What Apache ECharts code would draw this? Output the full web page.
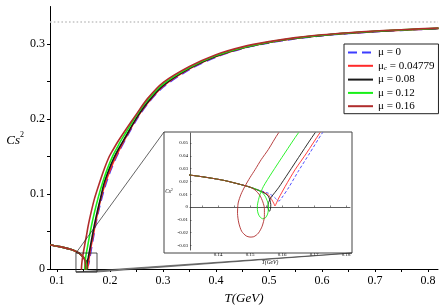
<!DOCTYPE html>
<html><head><meta charset="utf-8">
<script src="https://cdn.jsdelivr.net/npm/echarts@6/dist/echarts.min.js"></script>
<style>html,body{margin:0;padding:0;background:#fff}#c{width:443px;height:305px}</style>
</head><body><div id="c"></div>
<script>
// ---------- data ----------
const xLabelVals = [0.1,0.2,0.3,0.4,0.5,0.6,0.7,0.8];
const xTickVals  = [0.1,0.15,0.2,0.25,0.3,0.35,0.4,0.45,0.5,0.55,0.6,0.65,0.7,0.75,0.8];
const yLabelVals = [0,0.1,0.2,0.3];
const yTickVals  = [0,0.05,0.1,0.15,0.2,0.25,0.3];
const insetXLabelVals = [0.14,0.15,0.16,0.17,0.18];
const insetXTickVals  = [0.135,0.14,0.145,0.15,0.155,0.16,0.165,0.17,0.175,0.18];
const insetYLabelVals = [-0.03,-0.02,-0.01,0,0.01,0.02,0.03,0.04,0.05];
const cs2Limit = 1/3;
const zoomBoxT = [0.1358, 0.1755];
const zoomBoxC = [-0.004, 0.0213];

const seriesNames = ['μ = 0','μc = 0.04779','μ = 0.08','μ = 0.12','μ = 0.16'];

// common hadronic branch
const hadronT = [0.087,0.095,0.105,0.115,0.125,0.131,0.137,0.142,0.147,0.150];
const hadronC = [0.0322,0.0311,0.0298,0.0282,0.0264,0.0250,0.0229,0.0207,0.0176,0.0155];

const mu0T = [0.1530,0.1557,0.1573,0.1582,0.1589,0.1594,0.1599,0.1620,0.1651,0.1687,0.1726,0.1780,0.1850,0.1925,0.2010,0.2100,0.2180,0.2300,0.2500,0.2700,0.3000,0.3500,0.4000,0.4500,0.5000,0.5500,0.6000,0.6500,0.7000,0.7500,0.8200];
const mu0C = [0.0130,0.0108,0.0083,0.0062,0.0047,0.0052,0.0070,0.0148,0.0279,0.0422,0.0578,0.0760,0.0960,0.1140,0.1310,0.1460,0.1580,0.1740,0.1990,0.2195,0.2425,0.2660,0.2825,0.2940,0.3015,0.3070,0.3110,0.3140,0.3163,0.3182,0.3205];

const muCT = [0.1530,0.1557,0.1568,0.1575,0.1578,0.1581,0.1590,0.1610,0.1641,0.1677,0.1718,0.1770,0.1835,0.1910,0.2000,0.2090,0.2180,0.2300,0.2500,0.2700,0.3000,0.3500,0.4000,0.4500,0.5000,0.5500,0.6000,0.6500,0.7000,0.7500,0.8200];
const muCC = [0.0128,0.0096,0.0057,0.0025,0.0008,0.0022,0.0070,0.0161,0.0292,0.0422,0.0578,0.0760,0.0955,0.1140,0.1315,0.1465,0.1595,0.1755,0.2005,0.2205,0.2435,0.2668,0.2832,0.2945,0.3020,0.3074,0.3113,0.3143,0.3166,0.3184,0.3207];

const mu08T = [0.1530,0.1548,0.1557,0.1562,0.1565,0.1564,0.1561,0.1558,0.1556,0.1558,0.1566,0.1589,0.1620,0.1661,0.1703,0.1760,0.1820,0.1887,0.1980,0.2070,0.2160,0.2300,0.2500,0.2700,0.3000,0.3500,0.4000,0.4500,0.5000,0.5500,0.6000,0.6500,0.7000,0.7500,0.8200];
const mu08C = [0.0125,0.0105,0.0085,0.0055,0.0018,-0.0015,-0.0033,-0.0026,0.0000,0.0035,0.0075,0.0150,0.0266,0.0422,0.0578,0.0765,0.0940,0.1140,0.1325,0.1475,0.1600,0.1770,0.2015,0.2215,0.2445,0.2675,0.2837,0.2948,0.3022,0.3076,0.3115,0.3145,0.3168,0.3186,0.3208];

const mu12T = [0.1520,0.1536,0.1547,0.1555,0.1558,0.1555,0.1548,0.1540,0.1532,0.1526,0.1523,0.1523,0.1526,0.1531,0.1542,0.1568,0.1609,0.1651,0.1700,0.1775,0.1855,0.1950,0.2050,0.2120,0.2200,0.2300,0.2500,0.2700,0.3000,0.3500,0.4000,0.4500,0.5000,0.5500,0.6000,0.6500,0.7000,0.7500,0.8200];
const mu12C = [0.0138,0.0118,0.0085,0.0040,-0.0005,-0.0055,-0.0085,-0.0092,-0.0080,-0.0055,-0.0020,0.0010,0.0050,0.0096,0.0161,0.0266,0.0422,0.0578,0.0735,0.0945,0.1140,0.1335,0.1505,0.1600,0.1705,0.1820,0.2050,0.2245,0.2465,0.2685,0.2845,0.2952,0.3025,0.3079,0.3118,0.3147,0.3170,0.3188,0.3210];

const mu16T = [0.1516,0.1531,0.1540,0.1545,0.1545,0.1538,0.1526,0.1512,0.1500,0.1488,0.1474,0.1465,0.1461,0.1463,0.1472,0.1484,0.1500,0.1516,0.1535,0.1557,0.1589,0.1640,0.1710,0.1798,0.1890,0.1980,0.2050,0.2150,0.2300,0.2500,0.2700,0.3000,0.3500,0.4000,0.4500,0.5000,0.5500,0.6000,0.6500,0.7000,0.7500,0.8200];
const mu16C = [0.0132,0.0090,0.0040,-0.0010,-0.0073,-0.0150,-0.0205,-0.0232,-0.0235,-0.0226,-0.0190,-0.0125,-0.0050,0.0031,0.0100,0.0161,0.0230,0.0292,0.0370,0.0448,0.0578,0.0745,0.0945,0.1140,0.1330,0.1490,0.1580,0.1700,0.1860,0.2065,0.2265,0.2485,0.2700,0.2858,0.2962,0.3032,0.3085,0.3123,0.3151,0.3174,0.3191,0.3213];

// ---------- build ----------
function zip(T, C){ const n=Math.min(T.length,C.length); const o=[]; for(let i=0;i<n;i++) o.push([T[i],C[i]]); return o; }
function curve(T, C){ return zip(hadronT, hadronC).concat(zip(T, C)); }

const FONT = "'Liberation Serif','Times New Roman',serif";
const defs = [
  {name:seriesNames[0], color:'#3d3dff', dash:true, data:curve(mu0T, mu0C)},
  {name:seriesNames[1], color:'#ff2a2a', dash:false, data:curve(muCT, muCC)},
  {name:seriesNames[2], color:'#1a1a1a', dash:false, data:curve(mu08T, mu08C)},
  {name:seriesNames[3], color:'#18f018', dash:false, data:curve(mu12T, mu12C)},
  {name:seriesNames[4], color:'#b02c2c', dash:false, data:curve(mu16T, mu16C)}
];

const series = [];
defs.forEach((d, i) => {
  series.push({
    type:'line', name:d.name, xAxisIndex:0, yAxisIndex:0, data:d.data,
    symbol:'none', smooth:0.25, clip:true, z:3+i,
    lineStyle:{color:d.color, width:1.6, type:d.dash?[9,5]:'solid'},
    itemStyle:{color:d.color},
    markLine: i===0 ? {silent:true, symbol:'none', label:{show:false},
      lineStyle:{color:'#c4c4c4', type:[1.6,2.2], width:1.6},
      data:[{yAxis:cs2Limit}]} : undefined
  });
  series.push({
    type:'line', name:d.name, xAxisIndex:1, yAxisIndex:1, data:d.data,
    symbol:'none', smooth:0.25, clip:true, z:3+i,
    lineStyle:{color:d.color, width:0.9, type:d.dash?[3,2]:'solid'},
    itemStyle:{color:d.color}
  });
});

const fmt = v => String(+(+v).toFixed(3));
const INSET = {x:164, y:132, w:188, h:121};

const chart = echarts.init(document.getElementById('c'), null, {renderer:'canvas'});
chart.setOption({
  animation:false,
  backgroundColor:'#fff',
  textStyle:{fontFamily:FONT},
  grid:[
    {left:50, right:5, top:6.5, bottom:36, outerBoundsMode:'none', containLabel:false},
    {left:190, right:93, top:133, bottom:55, outerBoundsMode:'none', containLabel:false}
  ],
  xAxis:[
    {type:'value', gridIndex:0, min:0.0868, max:0.819,
     axisLine:{onZero:false, lineStyle:{color:'#000', width:1}},
     axisTick:{customValues:xTickVals, length:3, lineStyle:{color:'#000'}},
     axisLabel:{customValues:xLabelVals, formatter:fmt, fontFamily:FONT, fontSize:12, color:'#000', margin:6},
     splitLine:{show:false},
     name:'T(GeV)', nameLocation:'middle', nameGap:21,
     nameTextStyle:{fontFamily:FONT, fontStyle:'italic', fontSize:13, color:'#000'}},
    {type:'value', gridIndex:1, min:0.13125, max:0.18125, z:5,
     axisLine:{onZero:true, lineStyle:{color:'#333', width:0.8}},
     axisTick:{customValues:insetXTickVals, length:1.5, inside:true, lineStyle:{color:'#333', width:0.6}},
     axisLabel:{customValues:insetXLabelVals, formatter:fmt, fontFamily:FONT, fontSize:5, color:'#000', margin:2},
     splitLine:{show:false},
     name:'T(GeV)', nameLocation:'middle', nameGap:10,
     nameTextStyle:{fontFamily:FONT, fontStyle:'italic', fontSize:5.5, color:'#000'}}
  ],
  yAxis:[
    {type:'value', gridIndex:0, min:0, max:0.35,
     axisLine:{show:true, onZero:false, lineStyle:{color:'#000', width:1}},
     axisTick:{show:true, customValues:yTickVals, length:3, lineStyle:{color:'#000'}},
     axisLabel:{customValues:yLabelVals, formatter:fmt, fontFamily:FONT, fontSize:12, color:'#000', margin:5},
     splitLine:{show:false},
     name:'{i|Cs}{p|2}', nameLocation:'middle', nameRotate:0, nameGap:24,
     nameTextStyle:{color:'#000', padding:[0,0,-3,0], rich:{
       i:{fontFamily:FONT, fontStyle:'italic', fontSize:13, lineHeight:16, verticalAlign:'bottom', color:'#000'},
       p:{fontFamily:FONT, fontSize:8, lineHeight:16, verticalAlign:'top', color:'#000'}}}},
    {type:'value', gridIndex:1, min:-0.0336, max:0.0578, z:5,
     axisLine:{show:true, onZero:false, lineStyle:{color:'#333', width:0.8}},
     axisTick:{show:true, customValues:insetYLabelVals, length:1.5, inside:true, lineStyle:{color:'#333', width:0.6}},
     axisLabel:{customValues:insetYLabelVals, formatter:fmt, fontFamily:FONT, fontSize:5, color:'#000', margin:2},
     splitLine:{show:false},
     name:'{i|Cs}{p|2}', nameLocation:'middle', nameRotate:0, nameGap:13,
     nameTextStyle:{color:'#000', rich:{
       i:{fontFamily:FONT, fontStyle:'italic', fontSize:5.5, lineHeight:7, verticalAlign:'bottom', color:'#000'},
       p:{fontFamily:FONT, fontSize:3.5, lineHeight:7, verticalAlign:'top', color:'#000'}}}}
  ],
  legend:{
    orient:'vertical', left:344, top:44, padding:[3,4,2,3], itemGap:2.3, itemWidth:25, itemHeight:12,
    backgroundColor:'#fff', borderColor:'#222', borderWidth:1,
    data:seriesNames,
    itemStyle:{opacity:0, borderWidth:0},
    formatter: n => n==='μc = 0.04779' ? '{t|μ}{s|c}{t| = 0.04779}' : '{t|'+n+'}',
    textStyle:{fontFamily:FONT, fontSize:11, color:'#000', rich:{
      t:{fontFamily:FONT, fontSize:11, lineHeight:12, color:'#000'},
      s:{fontFamily:FONT, fontSize:7, fontStyle:'italic', lineHeight:12, verticalAlign:'bottom', color:'#000', padding:[4,0,0,0]}}}
  },
  series
});

// inset frame, zoom box and connector lines (box placed through the main axes)
const p = (t,c) => chart.convertToPixel({gridIndex:0}, [t,c]);
const tl = p(zoomBoxT[0], zoomBoxC[1]), tr = p(zoomBoxT[1], zoomBoxC[1]);
const bl = p(zoomBoxT[0], zoomBoxC[0]), br = p(zoomBoxT[1], zoomBoxC[0]);
const insTL = [INSET.x, INSET.y], insBR = [INSET.x+INSET.w, INSET.y+INSET.h];
chart.setOption({graphic:[
  {type:'rect', z:-1, shape:{x:INSET.x, y:INSET.y, width:INSET.w, height:INSET.h},
   style:{fill:'#fff', stroke:'#444', lineWidth:1}},
  {type:'polygon', z:10, shape:{points:[bl, br, insBR]}, style:{fill:'#9a9a9a', stroke:'#333', lineWidth:0.6}},
  {type:'polyline', z:10, shape:{points:[tl, insTL]}, style:{stroke:'#222', lineWidth:0.7, fill:null}},
  {type:'rect', z:10, shape:{x:tl[0], y:tl[1], width:tr[0]-tl[0], height:bl[1]-tl[1]},
   style:{fill:null, stroke:'#222', lineWidth:0.8}}
]});
</script></body></html>
